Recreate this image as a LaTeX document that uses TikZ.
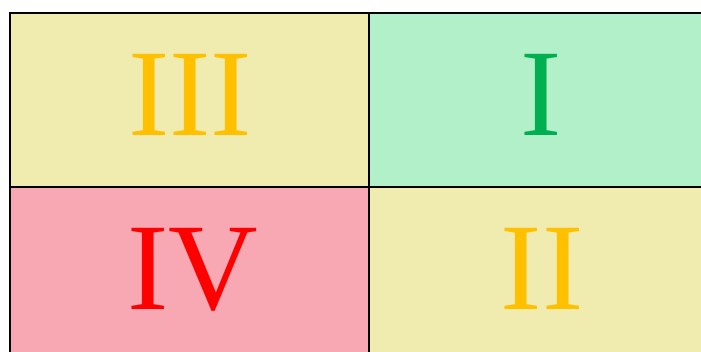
\documentclass[tikz,border=0pt]{standalone}
\usepackage{fontspec}
\setmainfont{Liberation Serif}
\usetikzlibrary{positioning}

\definecolor{quadyellow}{RGB}{240,235,174}
\definecolor{quadgreen}{RGB}{178,240,202}
\definecolor{quadpink}{RGB}{247,168,178}
\definecolor{numorange}{RGB}{255,192,0}
\definecolor{numgreen}{RGB}{0,176,80}
\definecolor{numred}{RGB}{255,0,0}

\begin{document}
\begin{tikzpicture}[x=1pt,y=-1pt]
   \tikzstyle{cell}=[draw,line width=2pt,minimum width=359pt,minimum height=174pt,inner sep=0pt,outer sep=0pt]
   \tikzstyle{num}=[anchor=base,inner sep=0pt,font=\fontsize{124}{126}\selectfont]

   \useasboundingbox (0,0) rectangle (701,351);
   \clip (0,0) rectangle (701,351);

   % the four quadrants
   \node (q3) [cell,fill=quadyellow] at (189.5,100) {};
   \node (q1) [cell,fill=quadgreen,right=0pt of q3] {};
   \node (q4) [cell,fill=quadpink,below=0pt of q3] {};
   \node (q2) [cell,fill=quadyellow,right=0pt of q4] {};

   % numbers
   \node (n3) [num,text=numorange] at (190,135) {III};
   \node (n1) [num,text=numgreen] at (541,135) {I};
   \node (n4) [num,text=numred] at (192.5,309.5) {IV};
   \node (n2) [num,text=numorange] at (542,309.5) {II};
\end{tikzpicture}
\end{document}
